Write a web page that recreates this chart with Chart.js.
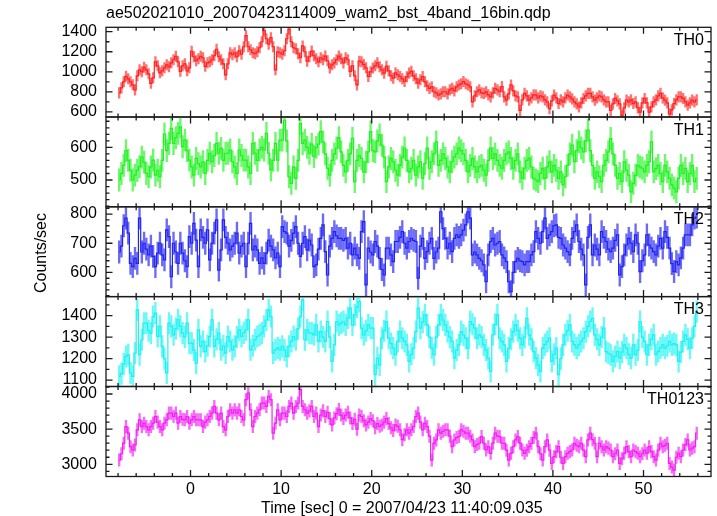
<!DOCTYPE html>
<html><head><meta charset="utf-8">
<script src="https://cdn.jsdelivr.net/npm/chart.js@4.4.1/dist/chart.umd.min.js"></script>
<style>
html,body{margin:0;padding:0;background:#fff;}
#wrap{position:relative;width:717px;height:516px;background:#fff;overflow:hidden;}
#wrap canvas{position:absolute;left:0;top:0;}
</style></head><body>
<div id="wrap">
<canvas id="c0" width="717" height="516"></canvas>
<canvas id="c1" width="717" height="516"></canvas>
<canvas id="c2" width="717" height="516"></canvas>
<canvas id="c3" width="717" height="516"></canvas>
<canvas id="c4" width="717" height="516"></canvas>
</div>
<script>
const TITLE = "ae502021010_20070423114009_wam2_bst_4band_16bin.qdp";
const X_LABEL = "Time [sec] 0 = 2007/04/23 11:40:09.035";
const Y_LABEL = "Counts/sec";
const PANEL_NAMES = ["TH0", "TH1", "TH2", "TH3", "TH0123"];
const T_START = -7.875;   // centre of first 0.25 s bin
const T_BIN = 0.25;
const X_TICKS = [0, 10, 20, 30, 40, 50];

const TH0 = [
790,840,900,955,930,900,870,820, 960,1020,1000,1045,1020,980,885,940,
1100,1060,990,1010,1040,1070,1050,1090, 1120,1155,1100,1005,1060,1080,1010,1040,
1205,1150,1110,1130,1155,1140,1055,1090, 1100,1120,1160,1225,1150,1120,1080,970,
1080,1190,1170,1190,1150,1210,1175,1250, 1360,1250,1220,1190,1180,1200,1240,1300,
1410,1330,1275,1340,1250,1020,1200,1190, 1175,1210,1330,1425,1300,1240,1230,1180,
1140,1258,1200,1106,1150,1207,1160,1130, 1100,1140,1120,1156,1110,1038,1070,1089,
1120,1156,1130,1089,1140,1120,1004,1060, 960,869,1106,1100,1072,1040,953,1000,
1038,1060,1089,1050,1020,987,1055,1010, 960,936,990,970,953,930,903,950,
987,1004,960,930,886,920,953,900, 860,835,850,801,790,768,780,801,
801,780,820,835,810,850,869,880, 903,880,869,850,700,760,801,820,
790,785,800,770,750,790,835,820, 801,852,750,717,780,869,810,760,
750,615,720,785,760,717,740,770, 768,740,760,750,720,700,632,710,
768,740,683,720,700,740,768,750, 730,700,680,649,690,734,760,785,
785,750,717,740,760,750,720,700, 700,615,680,734,710,680,565,640,
717,700,720,683,700,640,598,690, 734,690,598,650,700,720,760,785,
740,717,690,581,620,683,720,750, 750,734,700,666,690,717,700,720
];
const TH1 = [
500,520,545,590,560,530,500,515, 530,541,570,555,520,510,540,561,
515,530,510,560,641,590,612,658, 612,630,643,663,602,622,590,561,
540,515,566,550,540,556,520,560, 582,556,575,612,582,597,560,582,
582,592,556,540,520,592,575,561, 561,540,520,612,582,560,592,600,
592,643,582,531,560,612,561,622, 622,683,620,510,490,540,505,560,
673,612,622,600,582,610,572,600, 610,648,617,580,536,515,560,580,
598,630,586,545,525,560,580,628, 495,560,575,566,525,555,586,648,
590,586,620,638,607,570,495,540, 566,556,530,515,545,570,598,560,
525,536,560,515,540,556,505,550, 598,536,556,580,617,545,560,580,
566,540,525,556,570,580,598,590, 580,560,525,545,566,540,525,540,
545,530,515,560,598,566,580,560, 545,536,560,580,586,566,536,560,
580,525,505,536,560,566,540,505, 500,495,520,536,505,540,556,525,
545,530,505,525,485,510,545,580, 607,556,590,617,598,586,620,653,
590,545,505,525,510,495,545,560, 586,627,580,545,505,520,495,556,
530,515,464,490,515,545,540,536, 525,545,556,617,525,535,545,520,
495,545,525,505,485,475,464,505, 545,520,536,495,520,545,495,505
];
const TH2 = [
670,690,760,786,735,631,620,648, 631,786,670,700,680,660,690,655,
620,666,700,660,643,746,723,585, 700,670,631,700,666,640,620,723,
700,768,711,620,746,720,700,746, 643,700,735,780,608,677,780,720,
700,677,690,700,735,666,690,700, 620,700,768,677,690,677,631,650,
631,666,711,690,677,650,666,620, 757,740,735,690,710,735,757,700,
655,700,723,677,711,694,620,626, 680,717,763,671,591,690,717,740,
725,717,717,710,717,683,700,660, 683,660,648,740,774,557,683,670,
660,706,690,648,610,591,683,683, 660,637,706,706,720,740,700,683,
706,717,710,706,580,690,717,648, 671,700,717,648,670,683,808,750,
717,683,700,671,717,729,720,729, 745,763,808,786,660,670,660,648,
640,626,568,660,706,717,694,700, 706,660,650,637,568,534,600,637,
648,640,637,626,637,637,660,671, 740,717,700,740,786,717,729,740,
760,763,720,717,694,683,671,660, 717,740,763,706,680,660,557,720,
763,660,694,680,660,740,720,706, 680,671,683,710,729,591,620,660,
694,717,700,671,729,700,603,640, 660,729,694,683,671,660,690,717,
683,740,720,683,630,603,637,626, 650,683,729,729,729,763,786,790
];
const TH3 = [
1117,1130,1175,1210,1218,1133,1117,1226, 1427,1218,1288,1365,1365,1330,1319,1396,
1412,1303,1350,1257,1200,1133,1365,1350, 1311,1340,1381,1350,1319,1300,1365,1272,
1272,1240,1179,1334,1257,1280,1233,1260, 1303,1381,1257,1290,1319,1241,1260,1226,
1303,1280,1241,1257,1300,1334,1303,1320, 1334,1381,1241,1260,1288,1303,1310,1319,
1350,1380,1427,1396,1226,1241,1250,1241, 1257,1240,1210,1257,1280,1303,1288,1340,
1396,1474,1288,1334,1320,1319,1311,1357, 1280,1326,1300,1280,1373,1300,1187,1264,
1373,1357,1365,1373,1357,1390,1435,1357, 1404,1440,1466,1342,1311,1330,1357,1342,
1342,1125,1202,1171,1295,1330,1373,1295, 1270,1249,1218,1280,1326,1295,1280,1264,
1187,1220,1249,1326,1435,1342,1370,1404, 1357,1300,1249,1218,1300,1357,1404,1380,
1357,1326,1300,1280,1202,1240,1264,1326, 1310,1295,1249,1373,1360,1342,1295,1311,
1300,1264,1240,1202,1140,1311,1360,1404, 1295,1280,1264,1187,1249,1290,1326,1357,
1330,1295,1264,1300,1388,1311,1290,1233, 1202,1170,1140,1249,1265,1280,1295,1187,
1220,1249,1125,1200,1264,1311,1330,1357, 1280,1265,1249,1264,1280,1295,1326,1350,
1373,1388,1311,1290,1264,1300,1342,1233, 1225,1218,1187,1210,1233,1202,1230,1264,
1249,1220,1202,1264,1218,1240,1373,1300, 1280,1218,1264,1290,1311,1218,1233,1250,
1264,1249,1260,1280,1264,1270,1264,1187, 1230,1280,1311,1290,1249,1295,1350,1419
];
const TH0123 = [
3060,3150,3300,3537,3442,3251,3203,3275, 3490,3633,3537,3585,3537,3490,3537,3585,
3680,3600,3537,3490,3585,3633,3728,3728, 3680,3728,3585,3680,3640,3633,3680,3585,
3633,3680,3633,3633,3633,3537,3600,3633, 3680,3728,3823,3728,3633,3728,3537,3490,
3680,3776,3728,3776,3728,3776,3680,3633, 3919,4014,3776,3537,3680,3728,3776,3871,
3871,3823,3966,3919,3442,3585,3776,3633, 3728,3728,3680,3823,3871,3728,3823,3871,
4062,3823,3776,3728,3760,3823,3680,3728, 3537,3700,3760,3680,3740,3650,3560,3660,
3720,3780,3700,3650,3700,3740,3660,3580, 3640,3500,3700,3680,3620,3560,3600,3650,
3620,3520,3580,3540,3560,3600,3650,3580, 3520,3480,3560,3540,3490,3350,3420,3490,
3442,3490,3537,3680,3728,3600,3490,3585, 3537,3400,3060,3300,3346,3490,3442,3470,
3490,3490,3400,3251,3346,3380,3394,3490, 3470,3442,3442,3400,3346,3251,3280,3299,
3394,3300,3203,3251,3156,3300,3442,3400, 3394,3299,3299,3200,3060,3156,3250,3346,
3394,3300,3203,3156,3200,3251,3299,3380, 3442,3251,3150,3060,3251,3346,3200,3012,
3108,3180,3251,3100,3012,3108,3156,3180, 3203,3299,3270,3251,3299,3200,3108,3346,
3442,3350,3299,3108,3299,3250,3203,3251, 3230,3203,3108,3150,3203,3012,3080,3156,
3251,3180,3108,3203,3180,3156,3108,3150, 3203,3156,3251,3180,3108,3060,3200,3299,
3251,3270,3299,3012,2960,2917,3100,3156, 3108,3203,3280,3346,3203,3230,3251,3442
];

// half-width of the error bars (counts/sec), one per panel
const ERRORS = [52, 34, 38, 50, 88];
// y tick labels for each panel
const TH0_TICKS = [600, 800, 1000, 1200, 1400];
const TH1_TICKS = [500, 600];
const TH2_TICKS = [600, 700, 800];
const TH3_TICKS = [1100, 1200, 1300, 1400];
const TH0123_TICKS = [3000, 3500, 4000];

const TIME = TH0.map((_, k) => T_START + k * T_BIN);

const FONT = '"Liberation Sans", Arial, Helvetica, sans-serif';
const X_MIN = -9.33, X_MAX = 57.45;
const TOPS = [27.3, 117, 206.8, 296.6, 386.5];
const BOTTOMS = [117, 206.8, 296.6, 386.5, 476.5];

const PANELS = [
  {name: PANEL_NAMES[0], values: TH0, err: ERRORS[0], ticks: TH0_TICKS, min: 549, max: 1444, minor: 100,
   line: '#ff2020', errc: 'rgba(255,60,60,0.72)'},
  {name: PANEL_NAMES[1], values: TH1, err: ERRORS[1], ticks: TH1_TICKS, min: 418, max: 693, minor: 20,
   line: '#22f022', errc: 'rgba(50,245,50,0.72)'},
  {name: PANEL_NAMES[2], values: TH2, err: ERRORS[2], ticks: TH2_TICKS, min: 517, max: 825, minor: 20,
   line: '#2222f0', errc: 'rgba(50,50,245,0.72)'},
  {name: PANEL_NAMES[3], values: TH3, err: ERRORS[3], ticks: TH3_TICKS, min: 1070, max: 1489, minor: 50,
   line: '#22f0f0', errc: 'rgba(50,245,245,0.72)'},
  {name: PANEL_NAMES[4], values: TH0123, err: ERRORS[4], ticks: TH0123_TICKS, min: 2826, max: 4107, minor: 100,
   line: '#f022f0', errc: 'rgba(245,50,245,0.72)'}
];

const frameTicks = {
  id: 'frameTicks',
  afterDatasetsDraw(chart) {
    const p = chart.$panel;
    const {ctx, chartArea: a} = chart;
    const x = chart.scales.x, y = chart.scales.y;
    ctx.save();
    ctx.strokeStyle = '#1a1a1a';
    ctx.lineWidth = 1.3;
    ctx.beginPath();
    for (let v = -8; v <= 56; v += 2) {
      const px = x.getPixelForValue(v);
      const len = (v % 10 === 0) ? 6.5 : 3.5;
      ctx.moveTo(px, a.top); ctx.lineTo(px, a.top + len);
      ctx.moveTo(px, a.bottom); ctx.lineTo(px, a.bottom - len);
    }
    const majorStep = p.ticks[1] - p.ticks[0];
    for (let v = Math.ceil(y.min / p.minor) * p.minor; v <= y.max; v += p.minor) {
      const py = y.getPixelForValue(v);
      const len = (v % majorStep === 0) ? 6.5 : 3.5;
      ctx.moveTo(a.left, py); ctx.lineTo(a.left + len, py);
      ctx.moveTo(a.right, py); ctx.lineTo(a.right - len, py);
    }
    ctx.stroke();
    ctx.strokeRect(a.left, a.top, a.right - a.left, a.bottom - a.top);
    ctx.fillStyle = '#000';
    ctx.font = '16px ' + FONT;
    ctx.textAlign = 'right';
    ctx.textBaseline = 'alphabetic';
    ctx.fillText(p.name, a.right - 7, a.top + 17.5);
    if (chart.$bottom) {
      ctx.textAlign = 'left';
      ctx.fillText(TITLE, 106, 18);
      ctx.fillText(X_LABEL, 261, 513);
      ctx.save();
      ctx.translate(46, 253);
      ctx.rotate(-Math.PI / 2);
      ctx.textAlign = 'center';
      ctx.fillText(Y_LABEL, 0, 0);
      ctx.restore();
    }
    ctx.restore();
  }
};

PANELS.forEach((p, i) => {
  const isBottom = i === PANELS.length - 1;
  const errData = p.values.map((v, k) => ({x: TIME[k], y: [v - p.err, v + p.err]}));
  const lineData = p.values.map((v, k) => ({x: TIME[k], y: v}));
  new Chart(document.getElementById('c' + i), {
    type: 'bar',
    data: {datasets: [
      {type: 'line', data: lineData, borderColor: p.line, borderWidth: 1.2, pointRadius: 0,
       stepped: 'middle', fill: false, clip: 0, order: 0},
      {type: 'bar', data: errData, backgroundColor: p.errc, borderWidth: 0, barThickness: 1.7,
       clip: 0, order: 1}
    ]},
    options: {
      responsive: false, animation: false, devicePixelRatio: 1,
      layout: {padding: {left: 0, right: 6, top: TOPS[i], bottom: isBottom ? 0 : 516 - BOTTOMS[i]}},
      plugins: {legend: {display: false}, tooltip: {enabled: false}, title: {display: false}},
      scales: {
        x: {type: 'linear', min: X_MIN, max: X_MAX, offset: false, display: isBottom,
            grid: {display: false, drawTicks: false, offset: false}, border: {display: false},
            ticks: {font: {family: FONT, size: 16}, color: '#000', padding: 3, autoSkip: false, maxRotation: 0,
                    callback: v => String(v)},
            afterBuildTicks: s => { s.ticks = X_TICKS.map(v => ({value: v})); },
            afterFit: s => { if (isBottom) s.height = 516 - BOTTOMS[i]; }},
        y: {type: 'linear', min: p.min, max: p.max, position: 'left',
            grid: {display: false, drawTicks: false}, border: {display: false},
            ticks: {font: {family: FONT, size: 16}, color: '#000', padding: 9, autoSkip: false,
                    callback: v => String(v)},
            afterBuildTicks: s => { s.ticks = p.ticks.map(v => ({value: v})); },
            afterFit: s => { s.width = 106; }}
      }
    },
    plugins: [{id: 'tag', beforeInit(c) { c.$panel = p; c.$bottom = isBottom; }}, frameTicks]
  });
});
</script>
</body></html>
